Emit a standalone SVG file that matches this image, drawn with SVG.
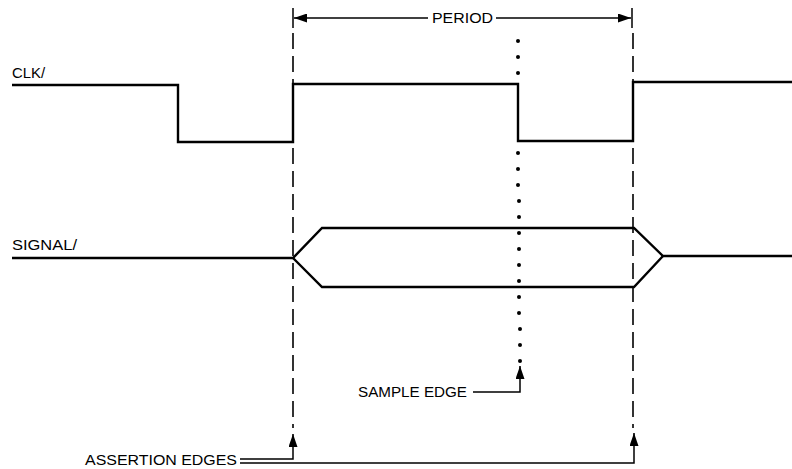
<svg xmlns="http://www.w3.org/2000/svg" width="792" height="469" viewBox="0 0 792 469">
<defs>
<style>
.wave{fill:none;stroke:#000;stroke-width:2.4;stroke-linejoin:miter}
.dash{fill:none;stroke:#000;stroke-width:1.6;stroke-dasharray:16 7}
.ln{fill:none;stroke:#000;stroke-width:1.5}
.lbl{font-family:"Liberation Sans",Arial,sans-serif;font-size:14px;fill:#000}
</style>
<marker id="ah" viewBox="0 0 13 9" refX="13" refY="4.5" markerWidth="13" markerHeight="9" markerUnits="userSpaceOnUse" orient="auto">
<path d="M0,0 L13,4.5 L0,9 Z" fill="#000"/>
</marker>
</defs>
<rect width="792" height="469" fill="#fff"/>
<g id="clk">
<text class="lbl" x="12" y="78" textLength="33" lengthAdjust="spacingAndGlyphs">CLK/</text>
<path class="wave" d="M12,85 H178 V142 H293 V84 H518 V141 H633 V82 H792"/>
</g>
<g id="signal">
<text class="lbl" x="12" y="250" textLength="65" lengthAdjust="spacingAndGlyphs">SIGNAL/</text>
<path class="wave" d="M12,258 H293 L322,228 H634 L663,256 H792"/>
<path class="wave" d="M293,258 L322,287 H634 L663,256"/>
</g>
<g id="period">
<text class="lbl" x="432" y="23" textLength="61" lengthAdjust="spacingAndGlyphs">PERIOD</text>
</g>
<g id="sample-edge">
<text class="lbl" x="358" y="397" textLength="109" lengthAdjust="spacingAndGlyphs">SAMPLE EDGE</text>
<g fill="#000">
<circle cx="518" cy="41" r="2"/><circle cx="518" cy="57" r="2"/><circle cx="518" cy="73" r="2"/>
<circle cx="518" cy="153" r="2"/><circle cx="518" cy="169" r="2"/><circle cx="518" cy="185" r="2"/>
<circle cx="519" cy="201" r="2"/><circle cx="519" cy="217" r="2"/><circle cx="519" cy="233" r="2"/>
<circle cx="519" cy="249" r="2"/><circle cx="519" cy="265" r="2"/><circle cx="519" cy="281" r="2"/>
<circle cx="519" cy="297" r="2"/><circle cx="519" cy="313" r="2"/><circle cx="520" cy="329" r="2"/>
<circle cx="520" cy="345" r="2"/><circle cx="520" cy="361" r="2"/>
</g>
</g>
<g id="assertion-edges">
<text class="lbl" x="85" y="465" textLength="152" lengthAdjust="spacingAndGlyphs">ASSERTION EDGES</text>
</g>
<g id="connectors">
<path class="ln" d="M293,8 V28 M632,8 V28"/>
<path class="ln" d="M428,18 H294" marker-end="url(#ah)"/>
<path class="ln" d="M496,18 H631" marker-end="url(#ah)"/>
<path class="dash" d="M293,33 V428"/>
<path class="dash" d="M633,33 V428"/>
<path class="ln" d="M473,392 H520 V366" marker-end="url(#ah)"/>
<path class="ln" d="M240,459 H293 V434" marker-end="url(#ah)"/>
<path class="ln" d="M240,463 H634 V433" marker-end="url(#ah)"/>
</g>
</svg>
